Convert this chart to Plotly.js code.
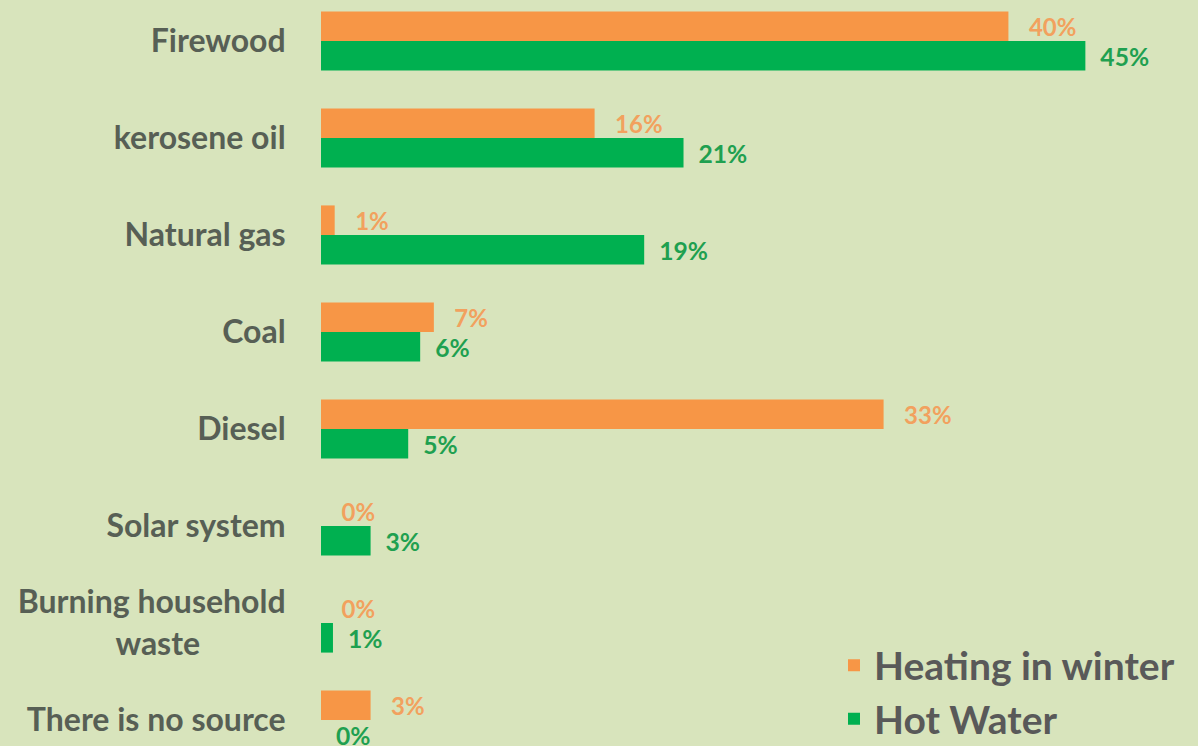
<!DOCTYPE html>
<html><head><meta charset="utf-8">
<script src="https://cdn.plot.ly/plotly-3.0.1.min.js"></script>
<style>html,body{margin:0;padding:0;background:#d8e4bc;}</style>
</head><body>
<div id="chart" style="width:1198px;height:746px;"></div>
<script>
const categories = ["Firewood", "kerosene oil", "Natural gas", "Coal", "Diesel", "Solar system", "Burning household<br>waste" + "\u00a0".repeat(11), "There is no source"];
const heatingWinter = [40.2, 16.0, 0.8, 6.6, 32.9, 0, 0, 2.9];
const hotWater = [44.7, 21.2, 18.9, 5.8, 5.1, 2.9, 0.7, 0];
const seriesNames = ["Heating in winter", "Hot Water"];

const fam = "Lato, 'Open Sans', sans-serif";
const traces = [
  {type:"bar", orientation:"h", name:seriesNames[0], y:categories, x:heatingWinter,
   marker:{color:"#f79646"}, text:heatingWinter.map(v=>"\u00a0\u00a0\u00a0"+Math.round(v)+"%"), textposition:"outside",
   textfont:{family:fam, size:24, color:"#f2a15e", weight:"bold"}, cliponaxis:false, hoverinfo:"x+y"},
  {type:"bar", orientation:"h", name:seriesNames[1], y:categories, x:hotWater,
   marker:{color:"#00b050"}, text:hotWater.map(v=>"\u00a0\u00a0"+Math.round(v)+"%"), textposition:"outside",
   textfont:{family:fam, size:25, color:"#1fa050", weight:"bold"}, cliponaxis:false, hoverinfo:"x+y"}
];
const layout = {
  width:1198, height:746,
  paper_bgcolor:"#d8e4bc", plot_bgcolor:"#d8e4bc",
  margin:{l:321, r:22, t:0, b:0, autoexpand:false},
  barmode:"group", bargap:0.39, bargroupgap:0,
  showlegend:true,
  legend:{x:0.6, y:0.072, xanchor:"left", yanchor:"middle", orientation:"v", traceorder:"normal",
          font:{family:fam, size:39, color:"#595959", weight:"bold"},
          bgcolor:"rgba(0,0,0,0)", tracegroupgap:0},
  xaxis:{range:[0,50], visible:false, fixedrange:true},
  yaxis:{type:"category", range:[7.268, -0.4227], showgrid:false, zeroline:false, showline:false,
         ticks:"outside", ticklen:28, tickcolor:"rgba(0,0,0,0)",
         tickfont:{family:fam, size:32, color:"#575f55", weight:"bold"}, fixedrange:true},
  font:{family:fam}
};
Plotly.newPlot("chart", traces, layout, {displayModeBar:false, staticPlot:true});
</script>
</body></html>
